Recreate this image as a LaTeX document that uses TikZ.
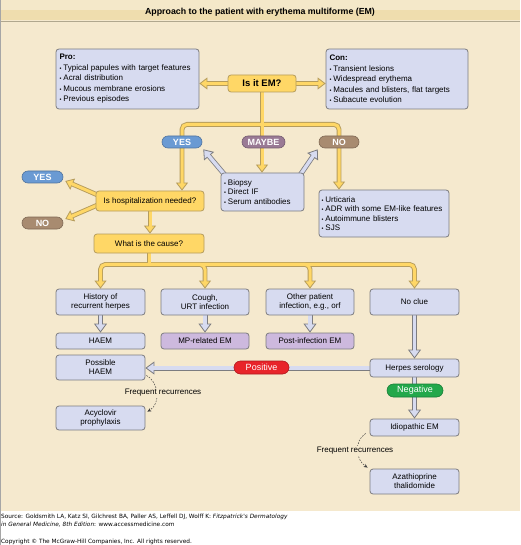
\documentclass[tikz,border=0pt]{standalone}
\usepackage{fontspec}
\setmainfont{Liberation Sans}
\newfontfamily\footfont{DejaVu Sans}
\usetikzlibrary{arrows.meta,calc}
\hyphenpenalty=10000
\exhyphenpenalty=10000
\definecolor{bgc}{HTML}{F5E9CE}
\definecolor{titletop}{HTML}{F4E8C9}
\definecolor{titleband}{HTML}{EFDDAE}
\definecolor{titleline}{HTML}{B0A78E}
\definecolor{lav}{HTML}{D7DBF0}
\definecolor{boxline}{HTML}{7C7C80}
\definecolor{yel}{HTML}{FFD766}
\definecolor{yelline}{HTML}{B59C5C}
\definecolor{purp}{HTML}{CDB9DE}
\definecolor{pblue}{HTML}{6A9AD3}
\definecolor{pmauve}{HTML}{9A7A95}
\definecolor{pbrown}{HTML}{A88B70}
\definecolor{pred}{HTML}{E8242A}
\definecolor{pgreen}{HTML}{23A84B}
\pgfdeclarelayer{back}
\pgfdeclarelayer{arr}
\pgfsetlayers{back,arr,main}
\newcommand\bl{{\fontsize{5.5}{5}\selectfont\textbullet}\hspace{0.25em}}
\begin{document}
\begin{tikzpicture}[x=1pt,y=-1pt,
  box/.style={draw=boxline, line width=0.8pt, rounded corners=3pt, fill=lav, font=\fontsize{8}{9}\selectfont, align=center, inner sep=1pt},
  ybox/.style={box, fill=yel, draw=yelline},
  pbox/.style={box, fill=purp},
  pill/.style={rounded corners=6pt, draw=#1!75!black, line width=0.6pt, fill=#1, text=white, font=\fontsize{9}{9}\selectfont\bfseries, inner sep=0pt, minimum height=12pt},
  tag/.style={pill=#1, font=\fontsize{9}{9}\selectfont, minimum height=13pt, rounded corners=6.5pt},
  yo/.style={draw=yelline, line width=4.8pt, rounded corners=5pt},
  yi/.style={draw=yel, line width=3pt, rounded corners=5pt},
  ytip/.style={-{Triangle[length=8pt,width=12pt,line width=0.8pt,fill=yel]}},
  ysh/.style={shorten >=6pt},
  bo/.style={draw=boxline, line width=5pt},
  bi/.style={draw=lav, line width=3.4pt},
  btip/.style={-{Triangle[length=9pt,width=13pt,line width=0.8pt,fill=lav]}},
  bsh/.style={shorten >=6.5pt},
  dasharr/.style={draw=black!75, line width=0.5pt, dash pattern=on 1.6pt off 1.3pt, -{Stealth[length=4pt,width=3.5pt]}},
  lbl/.style={fill=bgc, inner sep=1pt, font=\fontsize{8}{9}\selectfont},
  listbox/.style={box, align=left, font=\fontsize{8}{10.5}\selectfont}
]
\useasboundingbox (0,0) rectangle (520,545);
\begin{pgfonlayer}{back}
\fill[white] (0,0) rectangle (520,545);
\fill[bgc] (0,0) rectangle (520,511);
\fill[titletop] (0,0) rectangle (520,10.5);
\fill[titleband] (0,10.5) rectangle (520,20.5);
\draw[titleline, line width=0.8pt] (0,21) -- (520,21);
\draw[gray!70, line width=0.8pt] (0.5,0) -- (0.5,545);
\end{pgfonlayer}

\node[font=\fontsize{8.8}{9}\selectfont\bfseries] (title) at (260,12) {Approach to the patient with erythema multiforme (EM)};

\node[listbox, minimum width=143pt, minimum height=60pt, text width=136pt, inner xsep=3.5pt] (pro) at (127.5,79) {\textbf{Pro:}\\\bl Typical papules with target features\\\bl Acral distribution\\\bl Mucous membrane erosions\\\bl Previous episodes};
\node[listbox, minimum width=142pt, minimum height=60pt, text width=135pt, inner xsep=3.5pt] (con) at (397,79) {\textbf{Con:}\\\bl Transient lesions\\\bl Widespread erythema\\\bl Macules and blisters, flat targets\\\bl Subacute evolution};
\node[ybox, minimum width=68pt, minimum height=17pt, font=\fontsize{9.5}{10}\selectfont\bfseries] (isem) at (262,83.5) {Is it EM?};

\node[pill=pblue, minimum width=40pt] (yesA) at (182,142) {YES};
\node[pill=pmauve, minimum width=43pt] (maybe) at (263.5,142) {MAYBE};
\node[pill=pbrown, minimum width=40pt] (noA) at (339,142) {NO};

\node[ybox, minimum width=108pt, minimum height=20pt] (hosp) at (150,201) {Is hospitalization needed?};
\node[listbox, minimum width=83pt, minimum height=38pt, text width=77pt, inner xsep=3pt, font=\fontsize{8}{9.2}\selectfont] (biopsy) at (262.5,192) {\bl Biopsy\\\bl Direct IF\\\bl Serum antibodies};
\node[listbox, minimum width=130pt, minimum height=47pt, text width=125pt, inner xsep=2.5pt, font=\fontsize{8}{9.3}\selectfont] (diff) at (384,213.5) {\bl Urticaria\\\bl ADR with some EM-like features\\\bl Autoimmune blisters\\\bl SJS};
\node[pill=pblue, minimum width=41pt] (yesB) at (42.5,177) {YES};
\node[pill=pbrown, minimum width=41pt] (noB) at (42.5,223) {NO};
\node[ybox, minimum width=110pt, minimum height=19pt] (cause) at (149,243.5) {What is the cause?};

\node[box, minimum width=89pt, minimum height=26pt] (hist) at (100.5,302) {History of\\recurrent herpes};
\node[box, minimum width=88pt, minimum height=26pt] (cough) at (205,302) {Cough,\\URT infection};
\node[box, minimum width=88pt, minimum height=26pt] (other) at (310,302) {Other patient\\infection, e.g., orf};
\node[box, minimum width=89pt, minimum height=26pt] (noclue) at (414.5,302) {No clue};
\node[box, minimum width=89pt, minimum height=16pt] (haem) at (100.5,341) {HAEM};
\node[pbox, minimum width=88pt, minimum height=16pt] (mp) at (205,341) {MP-related EM};
\node[pbox, minimum width=88pt, minimum height=16pt] (post) at (310,341) {Post-infection EM};
\node[box, minimum width=89pt, minimum height=25pt] (poss) at (100.5,367.5) {Possible\\HAEM};
\node[box, minimum width=89pt, minimum height=18pt] (herpes) at (414.5,368) {Herpes serology};
\node[box, minimum width=89pt, minimum height=17pt] (idio) at (414.5,427.5) {Idiopathic EM};
\node[box, minimum width=89pt, minimum height=25pt] (aza) at (414.5,481.5) {Azathioprine\\thalidomide};
\node[box, minimum width=89pt, minimum height=24pt] (acy) at (100.5,418) {Acyclovir\\prophylaxis};
\node[tag=pred, minimum width=55pt] (pos) at (261.5,367.5) {Positive};
\node[tag=pgreen, minimum width=56pt] (neg) at (415,390.5) {Negative};
\node[lbl] (freqA) at (163,393) {Frequent recurrences};
\node[lbl] (freqB) at (355,451) {Frequent recurrences};

\coordinate (j1) at ($(isem.south)+(0,32)$);
\coordinate (j2) at ($(cause.south)+(0,11)$);

\begin{pgfonlayer}{arr}
% outer strokes
\draw[yo] (isem.south) -- (j1);
\draw[yo,ytip] (j1) -| (hosp.north -| yesA.center);
\draw[yo,ytip] (j1) -- (j1 |- biopsy.north);
\draw[yo,ytip] (j1) -| (diff.north -| noA.center);
\draw[yo,ytip] (isem.west) -- (isem.west -| pro.east);
\draw[yo,ytip] (isem.east) -- (isem.east -| con.west);
\draw[yo,ytip] ([shift={(2,-6)}]hosp.west) -- ([shift={(2,4)}]yesB.east);
\draw[yo,ytip] ([shift={(2,4)}]hosp.west) -- ([shift={(2,-4)}]noB.east);
\draw[yo,ytip] (hosp.south) -- (hosp.south |- cause.north);
\draw[yo] (cause.south) -- (j2);
\draw[yo,ytip] (j2) -| (hist.north);
\draw[yo,ytip] (j2) -| (cough.north);
\draw[yo,ytip] (j2) -| (other.north);
\draw[yo,ytip] (j2) -| (noclue.north);
% inner strokes
\draw[yi] (isem.south) -- (j1);
\draw[yi,ysh] (j1) -| (hosp.north -| yesA.center);
\draw[yi,ysh] (j1) -- (j1 |- biopsy.north);
\draw[yi,ysh] (j1) -| (diff.north -| noA.center);
\draw[yi,ysh] (isem.west) -- (isem.west -| pro.east);
\draw[yi,ysh] (isem.east) -- (isem.east -| con.west);
\draw[yi,ysh] ([shift={(2,-6)}]hosp.west) -- ([shift={(2,4)}]yesB.east);
\draw[yi,ysh] ([shift={(2,4)}]hosp.west) -- ([shift={(2,-4)}]noB.east);
\draw[yi,ysh] (hosp.south) -- (hosp.south |- cause.north);
\draw[yi] (cause.south) -- (j2);
\draw[yi,ysh] (j2) -| (hist.north);
\draw[yi,ysh] (j2) -| (cough.north);
\draw[yi,ysh] (j2) -| (other.north);
\draw[yi,ysh] (j2) -| (noclue.north);
% lavender arrows
\draw[bo,btip] (hist.south) -- (haem.north);
\draw[bo,btip] (cough.south) -- (mp.north);
\draw[bo,btip] (other.south) -- (post.north);
\draw[bo,btip] (noclue.south) -- (herpes.north);
\draw[bo,btip] (herpes.west) -- (herpes.west -| poss.east);
\draw[bo,btip] (herpes.south) -- (idio.north);
\draw[bo,btip] ([shift={(4,2)}]biopsy.north west) -- ([shift={(1,1)}]yesA.south east);
\draw[bo,btip] ([shift={(-4,2)}]biopsy.north east) -- ([shift={(-1,1)}]noA.south west);
\draw[bi,bsh] (hist.south) -- (haem.north);
\draw[bi,bsh] (cough.south) -- (mp.north);
\draw[bi,bsh] (other.south) -- (post.north);
\draw[bi,bsh] (noclue.south) -- (herpes.north);
\draw[bi,bsh] (herpes.west) -- (herpes.west -| poss.east);
\draw[bi,bsh] (herpes.south) -- (idio.north);
\draw[bi,bsh] ([shift={(4,2)}]biopsy.north west) -- ([shift={(1,1)}]yesA.south east);
\draw[bi,bsh] ([shift={(-4,2)}]biopsy.north east) -- ([shift={(-1,1)}]noA.south west);
% dashed curves
\draw[dasharr] ([shift={(1,-5)}]poss.south east) .. controls +(12,6) and +(14,-8) .. ([shift={(2,6)}]acy.north east);
\draw[dasharr] ([shift={(-4,-3)}]idio.south west) .. controls +(-12,8) and +(-12,-8) .. ([shift={(-2,-1)}]aza.north west);
\end{pgfonlayer}

\node[anchor=base west, inner sep=0pt, font=\footfont\fontsize{5.8}{7}\selectfont] (src1) at (1,518.5) {Source: Goldsmith LA, Katz SI, Gilchrest BA, Paller AS, Leffell DJ, Wolff K: \textit{Fitzpatrick's Dermatology}};
\node[anchor=base west, inner sep=0pt, font=\footfont\fontsize{5.8}{7}\selectfont] (src2) at (1,526.5) {\textit{in General Medicine, 8th Edition}: www.accessmedicine.com};
\node[anchor=base west, inner sep=0pt, font=\footfont\fontsize{5.8}{7}\selectfont] (copy) at (1,543.5) {Copyright \textcopyright{} The McGraw-Hill Companies, Inc. All rights reserved.};
\end{tikzpicture}
\end{document}
